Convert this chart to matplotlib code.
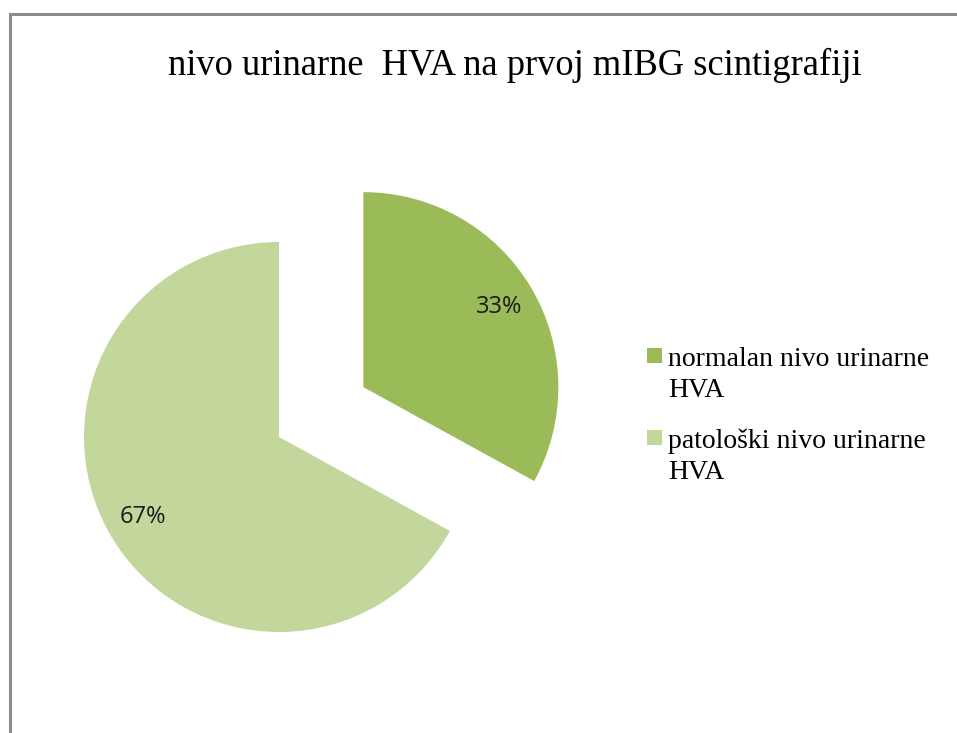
import matplotlib.pyplot as plt
import matplotlib.patches as mpatches
from matplotlib.legend_handler import HandlerPatch

# data
labels = ["normalan nivo urinarne\nHVA", "patološki nivo urinarne\nHVA"]
shares = [33, 67]
colors = ["#9BBB59", "#C3D69B"]
explode = [98, 0]   # offset of the first slice, in pixels (data units)
title = "nivo urinarne  HVA na prvoj mIBG scintigrafiji"

W, H = 957, 733
fig = plt.figure(figsize=(W / 100, H / 100), dpi=100)
ax = fig.add_axes([0, 0, 1, 1])

wedges, texts, autotexts = ax.pie(
    shares, colors=colors, explode=explode, startangle=90, counterclock=False,
    center=(279, H - 437), radius=195, autopct="%d%%", pctdistance=0.81,
    textprops=dict(family="Open Sans", fontsize=17, color="#1a1a1a"),
)
ax.set_xlim(0, W)
ax.set_ylim(0, H)
ax.set_aspect("equal")
ax.axis("off")

# outer frame of the chart area (runs past right/bottom edges)
fig.patches.append(mpatches.Rectangle(
    (9.5 / W, -0.05), 1.1, 1 - 13.5 / H + 0.05, transform=fig.transFigure,
    fill=False, edgecolor="#8c8c8c", linewidth=2.2))

fig.text(515 / W, 1 - 75 / H, title, ha="center", va="baseline",
         family="Liberation Serif", fontsize=26.3)


def square(legend, orig_handle, xdescent, ydescent, width, height, fontsize):
    return mpatches.Rectangle((0, height * 1.3), width, width)


leg = ax.legend(
    wedges, labels, loc="upper left", bbox_to_anchor=(622 / W, 1 - 322 / H),
    bbox_transform=fig.transFigure, frameon=False,
    prop=dict(family="Liberation Serif", size=20),
    handlelength=0.54, handleheight=0.54, handletextpad=0.22, labelspacing=0.9,
    handler_map={mpatches.Wedge: HandlerPatch(patch_func=square)},
)
for t in leg.get_texts():
    t.set_linespacing(1.34)

fig.savefig("out.png", dpi=100)
